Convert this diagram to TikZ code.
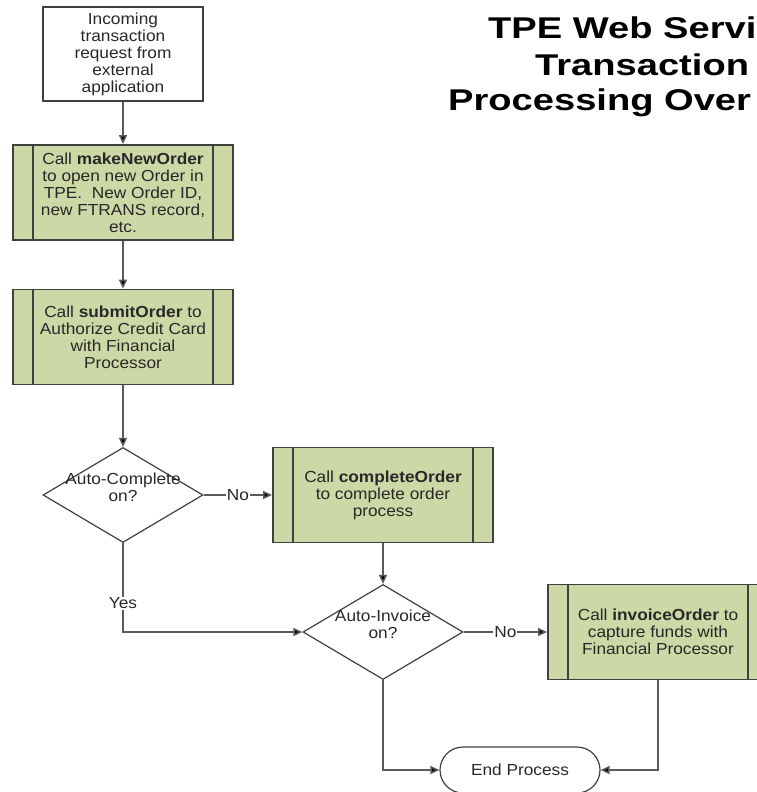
\documentclass[tikz,border=0pt]{standalone}
\usepackage{fontspec}
\setmainfont{Liberation Sans}[FakeStretch=1.08]
\newfontfamily\titlefont{Liberation Sans}[FakeStretch=1.27]
\usetikzlibrary{arrows.meta, shapes.geometric, shapes.misc}
\definecolor{procgreen}{RGB}{204,216,165}
\definecolor{edgegray}{RGB}{64,64,64}
\definecolor{linegray}{RGB}{90,90,90}
\definecolor{textgray}{RGB}{40,40,40}

\begin{document}
\begin{tikzpicture}[x=1pt, y=-1pt,
  every node/.style={font=\fontsize{16}{17}\selectfont, text=textgray, align=center},
  startbox/.style={rectangle, draw=edgegray, line width=1.4pt, fill=white, minimum width=160pt, minimum height=94pt, inner sep=0pt},
  procbox/.style={rectangle, draw=edgegray, line width=1.8pt, fill=procgreen, minimum width=220pt, minimum height=95pt, inner sep=0pt,
    path picture={\draw[edgegray, line width=1.8pt] ([xshift=20pt]path picture bounding box.north west) -- ([xshift=20pt]path picture bounding box.south west);
                  \draw[edgegray, line width=1.8pt] ([xshift=-20pt]path picture bounding box.north east) -- ([xshift=-20pt]path picture bounding box.south east);}},
  decision/.style={diamond, draw=edgegray, line width=1.2pt, fill=white, minimum width=160pt, minimum height=95pt, inner sep=0pt},
  dectext/.style={align=center, yshift=8pt},
  endbox/.style={rounded rectangle, draw=edgegray, line width=1.2pt, fill=white, minimum width=160pt, minimum height=46pt, inner sep=0pt},
  flow/.style={draw=linegray, line width=1.5pt, -{Triangle[length=9pt, width=8pt, fill=black]}},
  lbl/.style={fill=white, inner sep=1pt},
  titleline/.style={anchor=base west, inner sep=0pt, text=black, font=\titlefont\bfseries\fontsize{30}{35}\selectfont}]
\path[use as bounding box, clip] (0,0) rectangle (757,792);

\node[titleline] (title1) at (488,38) {TPE Web Servi};
\node[titleline] (title2) at (535,75) {Transaction};
\node[titleline] (title3) at (448,110) {Processing Over};

\node[startbox] (request) at (123,54) {Incoming\\transaction\\request from\\external\\application};
\node[procbox] (newOrder) at (123,192.5) {Call \textbf{makeNewOrder}\\to open new Order in\\TPE.\ \ New Order ID,\\new FTRANS record,\\etc.};
\node[procbox] (submitOrder) at (123,337) {Call \textbf{submitOrder} to\\Authorize Credit Card\\with Financial\\Processor};
\node[decision, label={[dectext]center:Auto-Complete\\on?}] (autoComplete) at (123,495) {};
\node[procbox] (completeOrder) at (383,495) {Call \textbf{completeOrder}\\to complete order\\process};
\node[decision, label={[dectext]center:Auto-Invoice\\on?}] (autoInvoice) at (383,632) {};
\node[procbox] (invoiceOrder) at (658,632) {Call \textbf{invoiceOrder} to\\capture funds with\\Financial Processor};
\node[endbox] (endProcess) at (520,770) {End Process};

\draw[flow] (request) -- (newOrder);
\draw[flow] (newOrder) -- (submitOrder);
\draw[flow] (submitOrder) -- (autoComplete);
\draw[flow] (autoComplete) -- node[lbl]{No} (completeOrder);
\draw[flow] (completeOrder) -- (autoInvoice);
\draw[flow] (autoComplete.south) |- node[lbl, pos=.34]{Yes} (autoInvoice.west);
\draw[flow] (autoInvoice) -- node[lbl]{No} (invoiceOrder);
\draw[flow] (autoInvoice.south) |- (endProcess.west);
\draw[flow] (invoiceOrder.south) |- (endProcess.east);
\end{tikzpicture}
\end{document}
